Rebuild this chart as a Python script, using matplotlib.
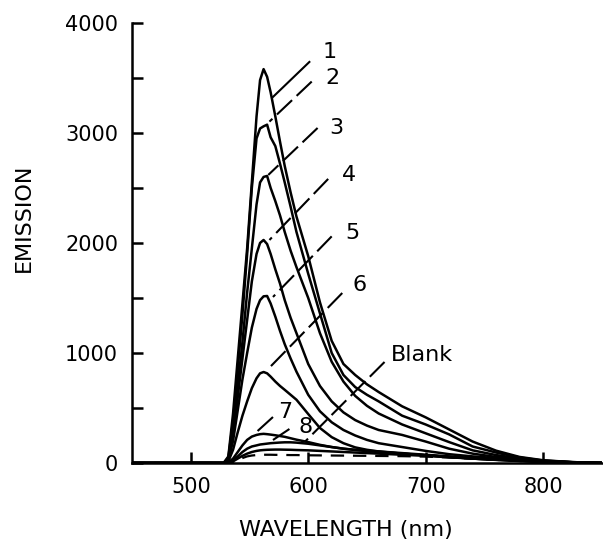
import matplotlib.pyplot as plt
from matplotlib.ticker import MultipleLocator

# wavelength grid (nm) shared by all traces
wl = [450, 528, 532, 536, 540, 544, 548, 552, 556, 559, 562, 565, 568, 572, 576, 580, 585, 590,
      600, 610, 620, 630, 640, 650, 660, 680, 700, 720, 740, 760, 780, 800, 825, 850]

c1 = [0, 0, 60, 450, 950, 1450, 1950, 2550, 3150, 3480, 3580, 3510, 3370, 3150, 2920, 2700, 2460, 2240,
      1880, 1460, 1110, 900, 800, 715, 645, 515, 415, 305, 195, 112, 55, 25, 8, 0]
c2 = [0, 0, 50, 380, 850, 1350, 1900, 2500, 2950, 3040, 3060, 3075, 2960, 2880, 2720, 2550, 2330, 2100,
      1720, 1360, 1000, 800, 690, 620, 560, 430, 350, 260, 150, 95, 50, 22, 8, 0]
c3 = [0, 0, 40, 300, 700, 1100, 1550, 1950, 2350, 2550, 2600, 2609, 2500, 2380, 2250, 2100, 1930, 1780,
      1500, 1180, 920, 740, 610, 520, 450, 350, 270, 190, 115, 72, 42, 20, 7, 0]
c4 = [0, 0, 30, 250, 600, 950, 1300, 1650, 1900, 2000, 2027, 1990, 1900, 1760, 1630, 1480, 1320, 1180,
      900, 700, 560, 460, 390, 340, 300, 255, 195, 130, 85, 55, 35, 18, 6, 0]
c5 = [0, 0, 25, 200, 480, 760, 1000, 1230, 1400, 1480, 1515, 1518, 1450, 1330, 1200, 1080, 950, 830,
      620, 470, 370, 300, 250, 210, 180, 145, 110, 80, 60, 45, 30, 16, 6, 0]
c6 = [0, 0, 15, 120, 280, 430, 560, 680, 770, 815, 827, 815, 785, 740, 700, 665, 620, 575,
      445, 318, 235, 180, 142, 120, 105, 85, 70, 55, 40, 30, 22, 12, 5, 0]
c7 = [0, 0, 5, 40, 100, 160, 210, 240, 255, 262, 265, 262, 258, 252, 245, 238, 225, 212,
      190, 165, 145, 130, 120, 112, 105, 90, 75, 60, 45, 33, 22, 12, 5, 0]
c8 = [0, 0, 3, 25, 60, 100, 130, 150, 160, 168, 172, 176, 180, 183, 186, 188, 188, 185,
      175, 160, 145, 130, 118, 108, 100, 85, 70, 55, 40, 30, 20, 10, 4, 0]
blank = [0, 0, 2, 15, 40, 65, 85, 100, 110, 115, 118, 120, 121, 122, 122, 121, 120, 118,
         115, 110, 105, 100, 95, 90, 85, 75, 65, 52, 40, 28, 18, 9, 3, 0]
dashed = [0, 0, 0, 10, 30, 45, 60, 68, 72, 74, 75, 75, 75, 74, 74, 73, 72, 72,
          70, 69, 68, 67, 66, 65, 64, 62, 58, 50, 40, 28, 18, 9, 3, 0]

curves = [c1, c2, c3, c4, c5, c6, c7, c8, blank]

# curve labels: text, text position, leader start, leader end
labels = ['1', '2', '3', '4', '5', '6', '7', '8', 'Blank']
text_pos = [(612, 3740), (615, 3500), (618, 3045), (629, 2620), (632, 2090),
            (638, 1620), (574, 465), (592, 330), (670, 985)]
lead_from = [(601, 3645), (603, 3467), (608, 3045), (617, 2582), (620, 2060),
             (629, 1545), (570, 418), (584, 309), (665, 918)]
lead_to = [(570, 3327), (567, 3103), (566, 2618), (567, 2027), (570, 1509),
           (565, 845), (556, 282), (570, 209), (597, 191)]

fig = plt.figure(figsize=(6.03, 5.40), dpi=100)
ax = fig.add_axes([0.219, 0.1426, 0.779, 0.815])

for c in curves:
    ax.plot(wl, c, color='black', linewidth=1.8, solid_joinstyle='round')
ax.plot(wl, dashed, color='black', linewidth=1.6, linestyle=(0, (6, 4)))

for i, lab in enumerate(labels):
    style = '-' if i == 0 else (0, (10, 3))
    ax.plot([lead_from[i][0], lead_to[i][0]], [lead_from[i][1], lead_to[i][1]],
            color='black', linewidth=1.5, linestyle=style)
    ax.text(text_pos[i][0], text_pos[i][1], lab, fontsize=16, ha='left', va='center')

ax.set_xlim(450, 850)
ax.set_ylim(0, 4000)
ax.set_xticks([500, 600, 700, 800])
ax.set_yticks([0, 1000, 2000, 3000, 4000])
ax.yaxis.set_minor_locator(MultipleLocator(500))
ax.tick_params(which='both', direction='in', length=8, width=1.8, labelsize=15, pad=10)

ax.spines['top'].set_visible(False)
ax.spines['right'].set_visible(False)
ax.spines['left'].set_linewidth(1.8)
ax.spines['bottom'].set_linewidth(1.8)

ax.set_xlabel('WAVELENGTH (nm)', fontsize=16)
ax.xaxis.set_label_coords(0.455, -0.13)
ax.set_ylabel('EMISSION', fontsize=16)
ax.yaxis.set_label_coords(-0.21, 0.557)

plt.savefig('out.png', dpi=100)
